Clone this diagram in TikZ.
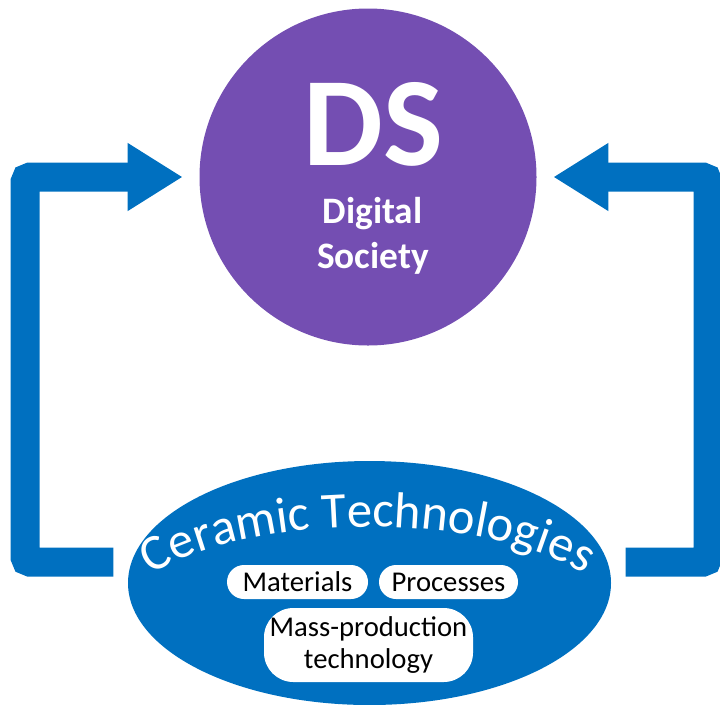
\documentclass[tikz,border=0pt]{standalone}
\usepackage{fontspec}
\setmainfont{Carlito}
\usetikzlibrary{arrows.meta,shapes.geometric,decorations.text}
\definecolor{dsviolet}{HTML}{744EB2}
\definecolor{ctblue}{HTML}{0070C0}

\begin{document}
\begin{tikzpicture}[x=0.75pt,y=-0.75pt]
    \tikzstyle{every node}=[inner sep=0pt]
    \tikzstyle{society} = [circle, fill=dsviolet, minimum size=252.75pt]
    \tikzstyle{ceramic} = [ellipse, fill=ctblue, minimum width=362.25pt, minimum height=183pt]
    \tikzstyle{pill} = [fill=white, rounded corners=12.75pt, minimum height=25.5pt, font=\fontsize{21.5}{23.5}\selectfont]
    \tikzstyle{title} = [text=white, anchor=base]
    \tikzstyle{flow} = [draw=ctblue, line width=21.75pt, rounded corners=4pt, -{Triangle[length=41.25pt,width=48pt]}]

    \useasboundingbox (0,0) rectangle (720,704);

    \node[society](ds) at (368,177) {};
    \node[ceramic](ct) at (369.5,583) {};

    \node[title, font=\fontsize{95}{95}\selectfont\bfseries](dsname) at (373.5,165) {DS};
    \node[title, font=\fontsize{28}{34}\selectfont\bfseries](digital) at (372.5,223) {Digital};
    \node[title, font=\fontsize{28}{34}\selectfont\bfseries](society) at (373,268) {Society};

    \path[decorate, decoration={text along path, text align=center,
        text={|\fontsize{38}{38}\selectfont\color{white}|Ceramic Technologies}}]
        (368,627) ++(-180:255 and 100) arc[start angle=-180, end angle=0, x radius=255, y radius=100];

    \node[pill, minimum width=105.75pt](mat) at (297.5,582) {Materials};
    \node[pill, minimum width=104.25pt](proc) at (448.5,582) {Processes};
    \node[pill, minimum width=156.75pt, minimum height=55.5pt, rounded corners=22pt, align=center](mass) at (368.5,645) {Mass-production\\technology};

    \draw[flow] ([xshift=-13.5pt]ct.175) -| (25,177) -- ([xshift=-12.4pt]ds.west);
    \draw[flow] ([xshift=13.5pt]ct.5) -| (708,177) -- ([xshift=12.4pt]ds.east);
\end{tikzpicture}
\end{document}
